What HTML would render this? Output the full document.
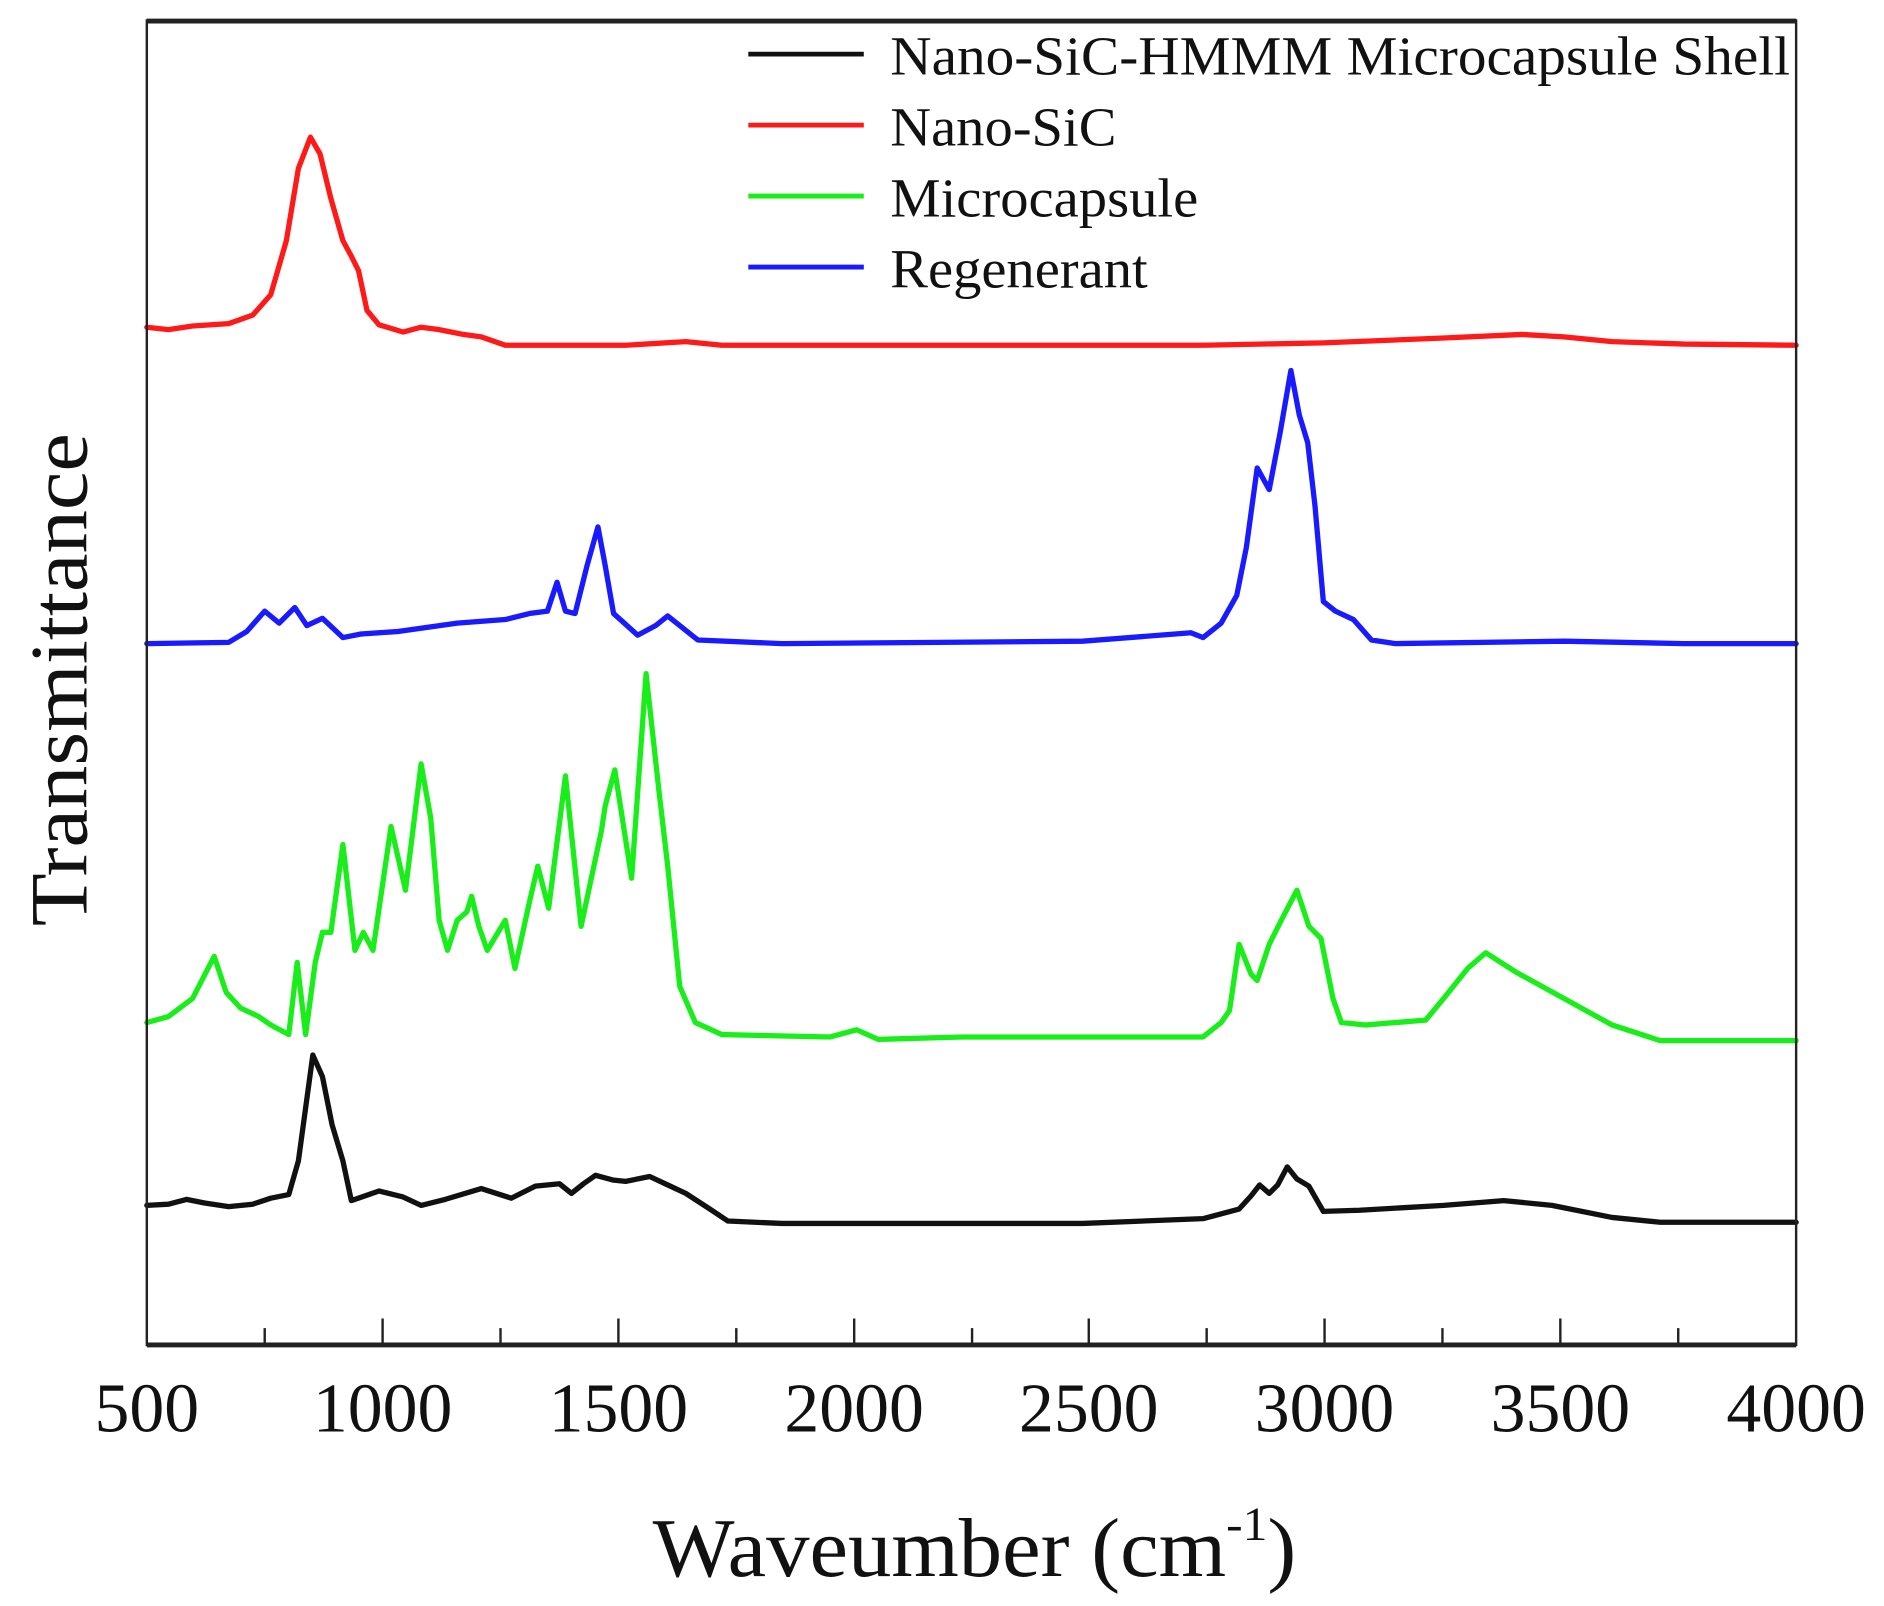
<!DOCTYPE html>
<html><head><meta charset="utf-8"><style>html,body{margin:0;padding:0;background:#fff}svg{display:block}</style></head>
<body>
<svg width="1884" height="1606" viewBox="0 0 1566 1335" xmlns="http://www.w3.org/2000/svg" font-family="Liberation Serif, serif">
<rect width="1566" height="1335" fill="#fff"/>
<g fill="none" stroke-width="4.4" stroke-linejoin="round" stroke-linecap="round">
<polyline stroke="#ff1a1a" points="122,272 140,274 160,271 190,269 210,262 225,245 238,200 248,140 258,114 266,128 275,165 285,200 292,213 298,225 305,258 315,270 335,276 350,272 365,274 385,278 400,280 420,287 450,287 520,287 570,284 600,287 800,287 1000,287 1100,285 1200,281 1265,278 1300,280 1340,284 1400,286 1493,287"/>
<polyline stroke="#1a1aff" points="122,535 190,534 205,525 220,508 232,518 245,505 255,520 268,514 285,530 300,527 330,525 380,518 420,515 440,510 455,508 463,484 470,508 478,510 488,470 497,438 503,470 510,510 530,528 545,520 555,512 565,520 580,532 650,535 900,533 990,526 1000,530 1015,518 1028,495 1036,455 1045,389 1055,407 1064,360 1073,308 1080,345 1087,368 1093,420 1100,500 1110,508 1125,515 1140,532 1160,535 1300,533 1400,535 1493,535"/>
<polyline stroke="#1aee1a" points="122,850 140,845 160,830 178,795 188,825 200,838 215,845 225,852 240,860 247,800 254,860 262,800 268,775 275,775 285,702 295,790 302,775 310,790 325,687 337,740 350,635 358,680 365,765 372,790 380,765 388,758 392,745 398,770 405,790 420,765 428,805 440,750 447,720 456,755 470,645 483,770 500,690 503,670 511,640 525,730 537,560 548,660 555,720 565,820 578,850 600,860 690,862 712,856 730,864 800,862 1000,862 1015,850 1022,840 1030,785 1040,810 1045,815 1055,785 1065,765 1078,740 1088,770 1098,780 1108,830 1115,850 1135,852 1160,850 1185,848 1200,830 1220,805 1235,792 1260,808 1300,830 1340,852 1380,865 1493,865"/>
<polyline stroke="#111" points="122,1002 140,1001 155,997 170,1000 190,1003 210,1001 225,996 240,993 248,965 260,877 268,895 276,935 285,965 292,998 315,990 335,995 350,1002 370,997 400,988 425,996 445,986 465,984 475,992 485,984 495,977 510,981 520,982 540,978 555,985 570,992 590,1005 605,1015 650,1017 900,1017 1000,1013 1030,1005 1040,994 1047,985 1055,992 1062,985 1070,970 1078,980 1088,986 1100,1007 1130,1006 1200,1002 1250,998 1290,1002 1340,1012 1380,1016 1493,1016"/>
</g>
<g stroke="#222" fill="none">
<rect x="122" y="17" width="1371" height="1101" stroke-width="2"/>
<line x1="122" y1="17.5" x2="1493" y2="17.5" stroke-width="4"/>
<line x1="122" y1="1118" x2="1493" y2="1118" stroke-width="4"/>
<g stroke-width="2">
<line x1="318" y1="1118" x2="318" y2="1096"/><line x1="514" y1="1118" x2="514" y2="1096"/><line x1="710" y1="1118" x2="710" y2="1096"/><line x1="905" y1="1118" x2="905" y2="1096"/><line x1="1101" y1="1118" x2="1101" y2="1096"/><line x1="1297" y1="1118" x2="1297" y2="1096"/>
<line x1="220" y1="1118" x2="220" y2="1104"/><line x1="416" y1="1118" x2="416" y2="1104"/><line x1="612" y1="1118" x2="612" y2="1104"/><line x1="808" y1="1118" x2="808" y2="1104"/><line x1="1003" y1="1118" x2="1003" y2="1104"/><line x1="1199" y1="1118" x2="1199" y2="1104"/><line x1="1395" y1="1118" x2="1395" y2="1104"/>
</g>
</g>
<g fill="#111" font-size="58" text-anchor="middle">
<text x="122" y="1190">500</text><text x="318" y="1190">1000</text><text x="514" y="1190">1500</text><text x="710" y="1190">2000</text><text x="905" y="1190">2500</text><text x="1101" y="1190">3000</text><text x="1297" y="1190">3500</text><text x="1493" y="1190">4000</text>
<text x="810" y="1310" font-size="70" textLength="535" lengthAdjust="spacingAndGlyphs">Waveumber (cm<tspan font-size="40" dy="-30">-1</tspan><tspan dy="30">)</tspan></text>
<text transform="translate(72,565) rotate(-90)" font-size="68" textLength="410" lengthAdjust="spacingAndGlyphs">Transmittance</text>
</g>
<g stroke-width="4">
<line x1="622" y1="45" x2="718" y2="45" stroke="#111"/>
<line x1="622" y1="104" x2="718" y2="104" stroke="#ff1a1a"/>
<line x1="622" y1="163" x2="718" y2="163" stroke="#1aee1a"/>
<line x1="622" y1="222" x2="718" y2="222" stroke="#1a1aff"/>
</g>
<g fill="#111" font-size="46">
<text x="740" y="62" textLength="748" lengthAdjust="spacingAndGlyphs">Nano-SiC-HMMM Microcapsule  Shell</text>
<text x="740" y="121" textLength="188" lengthAdjust="spacingAndGlyphs">Nano-SiC</text>
<text x="740" y="180" textLength="256" lengthAdjust="spacingAndGlyphs">Microcapsule</text>
<text x="740" y="239" textLength="214" lengthAdjust="spacingAndGlyphs">Regenerant</text>
</g>
</svg>
</body></html>
